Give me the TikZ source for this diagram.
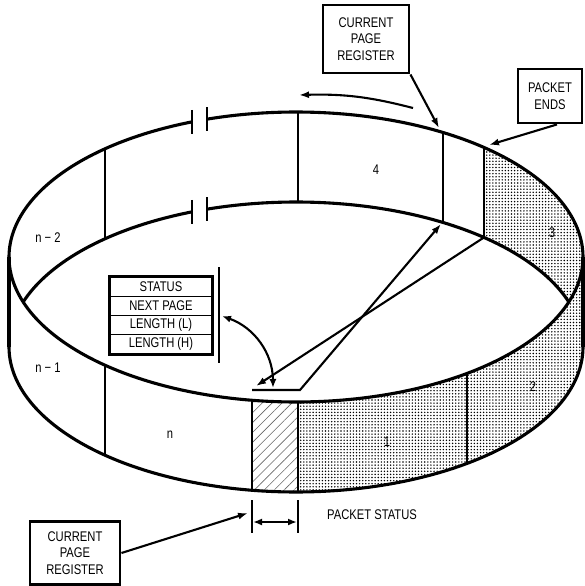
\documentclass[tikz,border=0pt]{standalone}
\usepackage{fontspec}
\setmainfont{Liberation Sans}[FakeStretch=0.8]
\usetikzlibrary{arrows.meta,patterns.meta}
\newcommand\lbl{\fontsize{14}{16.5}\selectfont}
\begin{document}
\begin{tikzpicture}[x=1pt,y=-1pt,
  ring/.style={line width=3.1pt,line join=round},
  divline/.style={line width=2.9pt},
  arr/.style={line width=2.1pt,-{Latex[length=10pt,width=7pt]}},
  darr/.style={line width=2.1pt,{Latex[length=9pt,width=7pt]}-{Latex[length=9pt,width=7pt]}},
  tickln/.style={line width=1.1pt},
  boxst/.style={draw,line width=2.9pt,align=center,font=\lbl,inner sep=0pt},
  rowst/.style={draw,line width=1.7pt,font=\lbl,minimum width=102pt,minimum height=19pt,inner sep=0pt},
  lab/.style={font=\lbl,inner sep=0pt},
]
\useasboundingbox (0,0) rectangle (584,586);
% angles
\pgfmathsetmacro\aA{acos((105-296)/287)}
\pgfmathsetmacro\aB{acos((192-296)/287)}
\pgfmathsetmacro\aC{acos((207-296)/287)}
\pgfmathsetmacro\aD{acos((298-296)/287)}
\pgfmathsetmacro\aE{acos((443-296)/287)}
\pgfmathsetmacro\aF{acos((484-296)/287)}
\pgfmathsetmacro\aG{acos((252-296)/287)}
\pgfmathsetmacro\aH{acos((467-296)/287)}
\pgfmathsetmacro\aI{asin(90/290)}
\pgfmathsetmacro\bA{360-\aA}
\pgfmathsetmacro\bB{360-\aB}
\pgfmathsetmacro\bC{360-\aC}
\pgfmathsetmacro\bD{360-\aD}
\pgfmathsetmacro\bE{360-\aE}
\pgfmathsetmacro\bF{360-\aF}
\pgfmathsetmacro\bI{360-\aI}
\pgfmathsetmacro\cB{720-\aB}
\pgfmathsetmacro\dI{180+\aI}

% fills
\fill[pattern={Dots[distance=3.1pt,radius=0.8pt]}]
  plot[domain=\bF:360,samples=60] ({296+287*cos(\x)},{257+145*sin(\x)})
  -- plot[domain=0:\aD,samples=80] ({296+287*cos(\x)},{347+145*sin(\x)})
  -- plot[domain=\aD:\aI,samples=60] ({296+287*cos(\x)},{257+145*sin(\x)})
  -- plot[domain=\bI:\bF,samples=40] ({296+287*cos(\x)},{347+145*sin(\x)})
  -- cycle;
\fill[pattern={Lines[angle=45,distance=7pt,line width=0.6pt]},pattern color=black!60]
  plot[domain=\aG:\aD,samples=20] ({296+287*cos(\x)},{257+145*sin(\x)})
  -- plot[domain=\aD:\aG,samples=20] ({296+287*cos(\x)},{347+145*sin(\x)})
  -- cycle;

% rims
\draw[ring] plot[domain=\bC:\cB,samples=300] ({296+287*cos(\x)},{257+145*sin(\x)});
\draw[ring] plot[domain=0:180,samples=150] ({296+287*cos(\x)},{347+145*sin(\x)});
\draw[ring] plot[domain=\dI:\bB,samples=60] ({296+287*cos(\x)},{347+145*sin(\x)});
\draw[ring] plot[domain=\bC:\bI,samples=80] ({296+287*cos(\x)},{347+145*sin(\x)});
\coordinate (sL1) at (9,257);
\coordinate (sL2) at (9,347);
\coordinate (sR1) at (583,257);
\coordinate (sR2) at (583,347);
\draw[ring] (sL1) -- (sL2);
\draw[ring] (sR1) -- (sR2);

% named points on rims
\foreach \n/\t in {A/\bA,B/\bB,C/\bC,D/\bD,E/\bE,F/\bF}{
  \coordinate (bt\n) at ({296+287*cos(\t)},{257+145*sin(\t)});
  \coordinate (bb\n) at ({296+287*cos(\t)},{347+145*sin(\t)});
}
\foreach \n/\t in {A/\aA,D/\aD,G/\aG,H/\aH}{
  \coordinate (ft\n) at ({296+287*cos(\t)},{257+145*sin(\t)});
  \coordinate (fb\n) at ({296+287*cos(\t)},{347+145*sin(\t)});
}
% division lines
\foreach \n in {A,D,E,F}{\draw[divline] (bt\n) -- (bb\n);}
\foreach \n in {A,G,D,H}{\draw[divline] (ft\n) -- (fb\n);}
% break ticks
\foreach \n in {B,C}{
  \draw[line width=1.8pt] ([yshift=12pt]bt\n) -- ([yshift=-12pt]bt\n);
  \draw[line width=1.8pt] ([yshift=12pt]bb\n) -- ([yshift=-12pt]bb\n);
}

% labels
\node[lab] (ln2) at (48,238) {n − 2};
\node[lab] (ln1) at (48,368) {n − 1};
\node[lab] (ln) at (170,435) {n};
\node[lab] (l4) at (376,170) {4};
\node[lab] (l3) at (552,233) {3};
\node[lab] (l2) at (533,387) {2};
\node[lab] (l1) at (387,442) {1};

% boxes
\node[boxst,minimum width=86pt,minimum height=68pt] (cprT) at (366,39) {CURRENT\\PAGE\\REGISTER};
\node[boxst,minimum width=64pt,minimum height=54pt] (pe) at (550,96) {PACKET\\ENDS};
\node[boxst,minimum width=90pt,minimum height=63pt] (cprB) at (75,553) {CURRENT\\PAGE\\REGISTER};

% status table
\node[rowst] (r1) at (161,287) {STATUS};
\node[rowst] (r2) at (161,306) {NEXT PAGE};
\node[rowst] (r3) at (161,325) {LENGTH (L)};
\node[rowst] (r4) at (161,344) {LENGTH (H)};
\draw[line width=2.9pt] (r1.north west) rectangle (r4.south east);
\coordinate (vt) at (219,267);
\coordinate (vb) at (219,363);
\draw[line width=2.4pt] (vt) -- (vb);

% arrows
\coordinate (cprTtip) at (439,128);
\draw[arr] (cprT.south east) -- (cprTtip);
\coordinate (peTip) at (489,145);
\draw[arr] ([xshift=7pt]pe.south) -- (peTip);
\coordinate (cprBtip) at (248,513);
\draw[arr] (cprB.east) -- (cprBtip);
\coordinate (rotT) at (413,108);
\coordinate (rotH) at (299,95);
\draw[arr] (rotT) to[bend right=8] (rotH);
\coordinate (dA) at (273,388);
\coordinate (dB) at (222,316);
\draw[darr] (dA) to[bend right=35] (dB);
\coordinate (hs1) at (252,390);
\coordinate (hs2) at (300,390);
\coordinate (tipE) at (441,224);
\draw[arr] (hs1) -- (hs2) -- (tipE);
\coordinate (tipL) at (256,386);
\draw[arr] (bbF) -- (tipL);

% packet status dimension
\coordinate (k1a) at (252,500);
\coordinate (k1b) at (252,533);
\coordinate (k2a) at (298,500);
\coordinate (k2b) at (298,533);
\draw[tickln] (k1a) -- (k1b);
\draw[tickln] (k2a) -- (k2b);
\coordinate (dm1) at (253,522);
\coordinate (dm2) at (297,522);
\draw[darr] (dm1) -- (dm2);
\node[lab,anchor=west] (ps) at (327,515) {PACKET STATUS};
\end{tikzpicture}
\end{document}
